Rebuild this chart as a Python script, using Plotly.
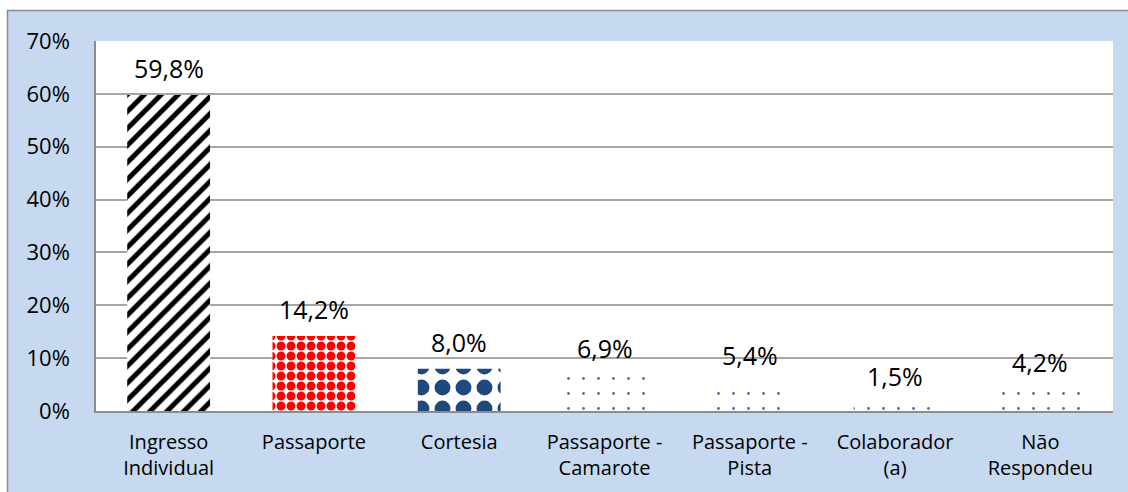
import plotly.graph_objects as go

categories = ["Ingresso<br>Individual", "Passaporte", "Cortesia", "Passaporte -<br>Camarote",
              "Passaporte -<br>Pista", "Colaborador<br>(a)", "Não<br>Respondeu"]
values = [59.8, 14.2, 8.0, 6.9, 5.4, 1.5, 4.2]
labels = ["59,8%", "14,2%", "8,0%", "6,9%", "5,4%", "1,5%", "4,2%"]
tick_vals = [0, 10, 20, 30, 40, 50, 60, 70]
tick_text = ["0%", "10%", "20%", "30%", "40%", "50%", "60%", "70%"]

shapes_ = ["/", ".", ".", ".", ".", ".", "."]
fgcolors = ["#000000", "#FF0000", "#1F497D", "#4472B0", "#4472B0", "#4472B0", "#4472B0"]
sizes = [12, 10, 21, 15, 15, 15, 15]
solidities = [0.42, 0.62, 0.45, 0.028, 0.028, 0.028, 0.028]

FONT = "Open Sans"
BLUE = "#C6D9F1"
GRAY = "#8C8C8C"

fig = go.Figure()
fig.add_trace(go.Bar(
    x=categories, y=values,
    cliponaxis=False,
    marker=dict(color="white", line=dict(width=0),
                pattern=dict(shape=shapes_, fgcolor=fgcolors, bgcolor="white",
                             size=sizes, solidity=solidities, fillmode="replace",
                             fgopacity=1)),
    width=0.57,
    hoverinfo="skip",
))

for c, v, t in zip(categories, values, labels):
    fig.add_annotation(x=c, y=v, text=t, showarrow=False, yanchor="middle",
                       yshift=27, font=dict(family=FONT, size=25, color="black"))

W, H = 1128, 492
L, R, T, B = 96, 15, 41, 81
pw, ph = W - L - R, H - T - B

def px(x):
    return (x - L) / pw

def py(y):
    return (H - B - y) / ph

fig.update_layout(
    width=W, height=H,
    margin=dict(l=L, r=R, t=T, b=B),
    paper_bgcolor=BLUE, plot_bgcolor="white",
    showlegend=False,
    font=dict(family=FONT, color="black"),
    xaxis=dict(showline=True, linecolor=GRAY, linewidth=1.5, ticks="",
               tickfont=dict(size=20), ticklabelstandoff=12, showgrid=False),
    yaxis=dict(range=[0, 70], tickvals=tick_vals, ticktext=tick_text,
               tickfont=dict(size=22), ticklabelstandoff=20,
               showgrid=True, gridcolor="#A6A6A6", gridwidth=1.5,
               showline=True, linecolor=GRAY, linewidth=1.5,
               zeroline=False, ticks=""),
    shapes=[
        dict(type="rect", xref="paper", yref="paper", x0=px(-5), x1=px(W + 5),
             y0=py(10), y1=py(-5), fillcolor="white", line=dict(width=0), layer="above"),
        dict(type="rect", xref="paper", yref="paper", x0=px(-5), x1=px(7),
             y0=py(H + 5), y1=py(-5), fillcolor="white", line=dict(width=0), layer="above"),
        dict(type="line", xref="paper", yref="paper", x0=px(7), x1=px(W + 5),
             y0=py(10.5), y1=py(10.5), line=dict(color=GRAY, width=1.5)),
        dict(type="line", xref="paper", yref="paper", x0=px(7.5), x1=px(7.5),
             y0=py(10), y1=py(H + 5), line=dict(color=GRAY, width=1.5)),
    ],
)

fig.write_html("out.html", config={"displayModeBar": False},
               post_script="document.body.style.margin='0';document.body.style.padding='0';")
